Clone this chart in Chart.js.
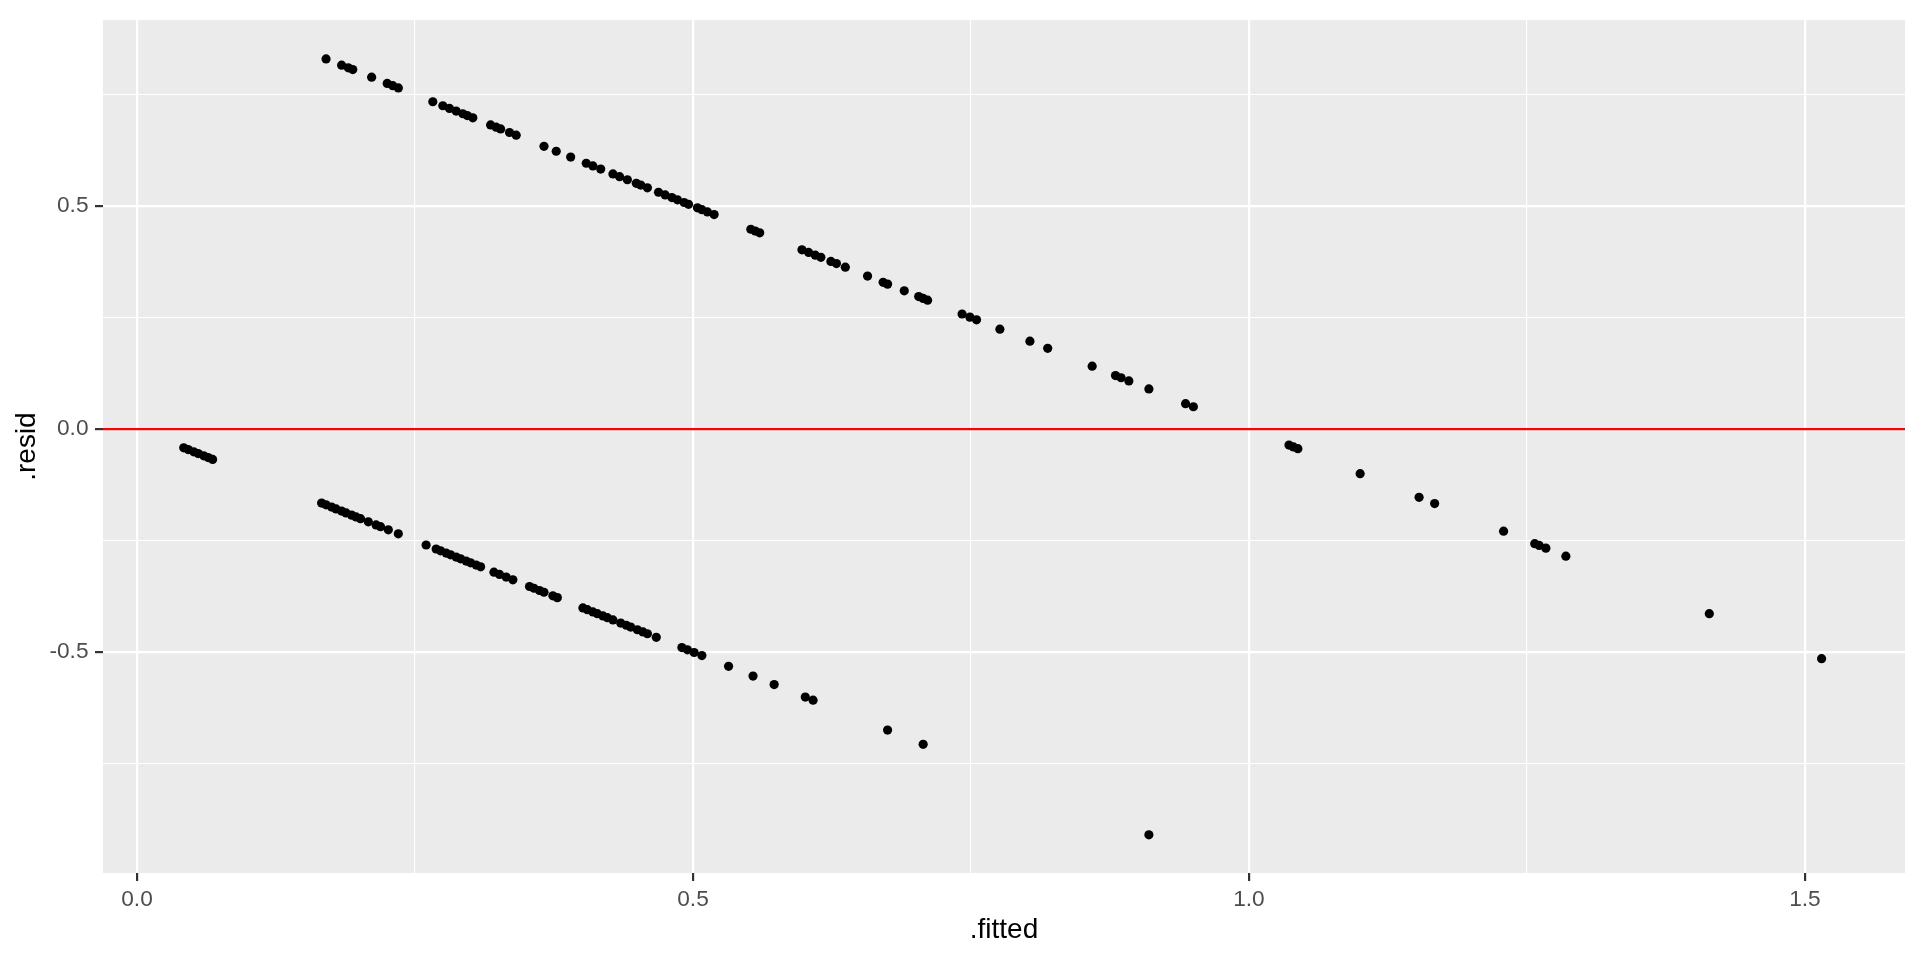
<!DOCTYPE html>
<html>
<head>
<meta charset="utf-8">
<script src="https://cdn.jsdelivr.net/npm/chart.js@4.4.1/dist/chart.umd.min.js"></script>
<style>
  html, body { margin: 0; padding: 0; background: #ffffff; }
  #wrap { width: 1920px; height: 960px; position: relative; }
</style>
</head>
<body>
<div id="wrap"><canvas id="c"></canvas></div>
<script>
// ---- data ----
const upperFitted = [0.170, 0.184, 0.190, 0.194, 0.211, 0.225, 0.230, 0.235,
  0.266, 0.275, 0.281, 0.287, 0.293, 0.297, 0.302,
  0.318, 0.323, 0.327, 0.335, 0.341,
  0.366, 0.377, 0.390, 0.404, 0.410, 0.417,
  0.428, 0.434, 0.441, 0.449, 0.453, 0.459,
  0.469, 0.475, 0.481, 0.486, 0.492, 0.496,
  0.504, 0.508, 0.513, 0.519,
  0.552, 0.556, 0.560,
  0.598, 0.604, 0.610, 0.615, 0.624, 0.629, 0.637,
  0.657, 0.671, 0.675, 0.690, 0.703, 0.707, 0.711,
  0.742, 0.749, 0.755, 0.776, 0.803, 0.819,
  0.859, 0.880, 0.885, 0.892, 0.910, 0.943, 0.950,
  1.036, 1.040, 1.044, 1.100, 1.153, 1.167, 1.229,
  1.257, 1.261, 1.267, 1.285, 1.414, 1.515];
const upperResid = [0.830, 0.816, 0.810, 0.806, 0.789, 0.775, 0.770, 0.765,
  0.734, 0.725, 0.719, 0.713, 0.707, 0.703, 0.698,
  0.682, 0.677, 0.673, 0.665, 0.659,
  0.634, 0.623, 0.610, 0.596, 0.590, 0.583,
  0.572, 0.566, 0.559, 0.551, 0.547, 0.541,
  0.531, 0.525, 0.519, 0.514, 0.508, 0.504,
  0.496, 0.492, 0.487, 0.481,
  0.448, 0.444, 0.440,
  0.402, 0.396, 0.390, 0.385, 0.376, 0.371, 0.363,
  0.343, 0.329, 0.325, 0.310, 0.297, 0.293, 0.289,
  0.258, 0.251, 0.245, 0.224, 0.197, 0.181,
  0.141, 0.120, 0.115, 0.108, 0.090, 0.057, 0.050,
  -0.036, -0.040, -0.044, -0.100, -0.153, -0.167, -0.229,
  -0.257, -0.261, -0.267, -0.285, -0.414, -0.515];

const lowerFitted = [0.042, 0.046, 0.051, 0.055, 0.060, 0.064, 0.068,
  0.166, 0.170, 0.175, 0.179, 0.184, 0.188, 0.193, 0.197, 0.201,
  0.208, 0.215, 0.219, 0.226, 0.235,
  0.260, 0.269, 0.273, 0.278, 0.282, 0.287, 0.291, 0.296, 0.300, 0.305, 0.309,
  0.321, 0.326, 0.332, 0.338,
  0.353, 0.357, 0.362, 0.366, 0.374, 0.378,
  0.401, 0.405, 0.410, 0.414, 0.419, 0.423, 0.428, 0.435, 0.440, 0.444, 0.450, 0.455, 0.459, 0.467,
  0.490, 0.495, 0.501, 0.508, 0.532, 0.554, 0.573, 0.601, 0.608,
  0.675, 0.707, 0.910];
const lowerResid = [-0.042, -0.046, -0.051, -0.055, -0.060, -0.064, -0.068,
  -0.166, -0.170, -0.175, -0.179, -0.184, -0.188, -0.193, -0.197, -0.201,
  -0.208, -0.215, -0.219, -0.226, -0.235,
  -0.260, -0.269, -0.273, -0.278, -0.282, -0.287, -0.291, -0.296, -0.300, -0.305, -0.309,
  -0.321, -0.326, -0.332, -0.338,
  -0.353, -0.357, -0.362, -0.366, -0.374, -0.378,
  -0.401, -0.405, -0.410, -0.414, -0.419, -0.423, -0.428, -0.435, -0.440, -0.444, -0.450, -0.455, -0.459, -0.467,
  -0.490, -0.495, -0.501, -0.508, -0.532, -0.554, -0.573, -0.601, -0.608,
  -0.675, -0.707, -0.910];

const xTickValues = [0.0, 0.5, 1.0, 1.5];
const yTickValues = [-0.5, 0.0, 0.5];
const xTitle = '.fitted';
const yTitle = '.resid';
const HLINE_Y = 0;
const X_MIN = -0.0306, X_MAX = 1.590;
const Y_MIN = -0.9955, Y_MAX = 0.917;

// ---- build points ----
const points = [];
upperFitted.forEach((f, i) => points.push({ x: f, y: upperResid[i] }));
lowerFitted.forEach((f, i) => points.push({ x: f, y: lowerResid[i] }));

const isMajor = (v, list) => list.some(t => Math.abs(t - v) < 1e-6);
const FONT = '"Liberation Sans", Arial, Helvetica, sans-serif';

const panelBg = {
  id: 'panelBg',
  beforeDraw(chart) {
    const { ctx, chartArea: a } = chart;
    ctx.save();
    ctx.fillStyle = '#ffffff';
    ctx.fillRect(0, 0, chart.width, chart.height);
    ctx.fillStyle = '#EBEBEB';
    ctx.fillRect(a.left, a.top, a.right - a.left, a.bottom - a.top);
    ctx.restore();
  }
};
const hline = {
  id: 'hline',
  afterDatasetsDraw(chart) {
    const { ctx, chartArea: a } = chart;
    const y = chart.scales.y.getPixelForValue(HLINE_Y);
    ctx.save();
    ctx.strokeStyle = '#FF0000';
    ctx.lineWidth = 2.2;
    ctx.beginPath();
    ctx.moveTo(a.left, y);
    ctx.lineTo(a.right, y);
    ctx.stroke();
    ctx.restore();
  }
};

function axisCommon(list) {
  return {
    grid: {
      color: '#FFFFFF',
      lineWidth: c => (c.tick && isMajor(c.tick.value, list)) ? 2.2 : 1.1,
      tickColor: c => (c.tick && isMajor(c.tick.value, list)) ? '#333333' : 'rgba(0,0,0,0)',
      tickWidth: 2.2,
      tickLength: 8,
      drawTicks: true
    },
    border: { display: false },
  };
}

new Chart(document.getElementById('c'), {
  type: 'scatter',
  data: {
    datasets: [{
      data: points,
      backgroundColor: '#000000',
      borderWidth: 0,
      pointRadius: 4.6,
      pointHoverRadius: 4.6
    }]
  },
  options: {
    responsive: true,
    maintainAspectRatio: false,
    devicePixelRatio: 1,
    animation: false,
    events: [],
    layout: { padding: { left: 0, top: 14, right: 15, bottom: 0 } },
    plugins: { legend: { display: false }, tooltip: { enabled: false } },
    scales: {
      x: Object.assign(axisCommon(xTickValues), {
        type: 'linear',
        min: X_MIN, max: X_MAX,
        afterFit: s => { s.height = 87; },
        ticks: {
          stepSize: 0.25,
          includeBounds: false,
          autoSkip: false,
          maxRotation: 0,
          padding: 5,
          color: '#4D4D4D',
          font: { family: FONT, size: 22.7 },
          callback: v => isMajor(v, xTickValues) ? v.toFixed(1) : ''
        },
        title: {
          display: true, text: xTitle, color: '#000000',
          font: { family: FONT, size: 28 },
          padding: { top: 0, bottom: 13 }
        }
      }),
      y: Object.assign(axisCommon(yTickValues), {
        type: 'linear',
        min: Y_MIN, max: Y_MAX,
        afterFit: s => { s.width = 103; },
        ticks: {
          stepSize: 0.25,
          includeBounds: false,
          autoSkip: false,
          padding: 6.5,
          color: '#4D4D4D',
          font: { family: FONT, size: 22.7 },
          callback: v => isMajor(v, yTickValues) ? v.toFixed(1) : ''
        },
        title: {
          display: true, text: yTitle, color: '#000000',
          font: { family: FONT, size: 28 },
          padding: { top: 10, bottom: 0 }
        }
      })
    }
  },
  plugins: [panelBg, hline]
});
</script>
</body>
</html>
